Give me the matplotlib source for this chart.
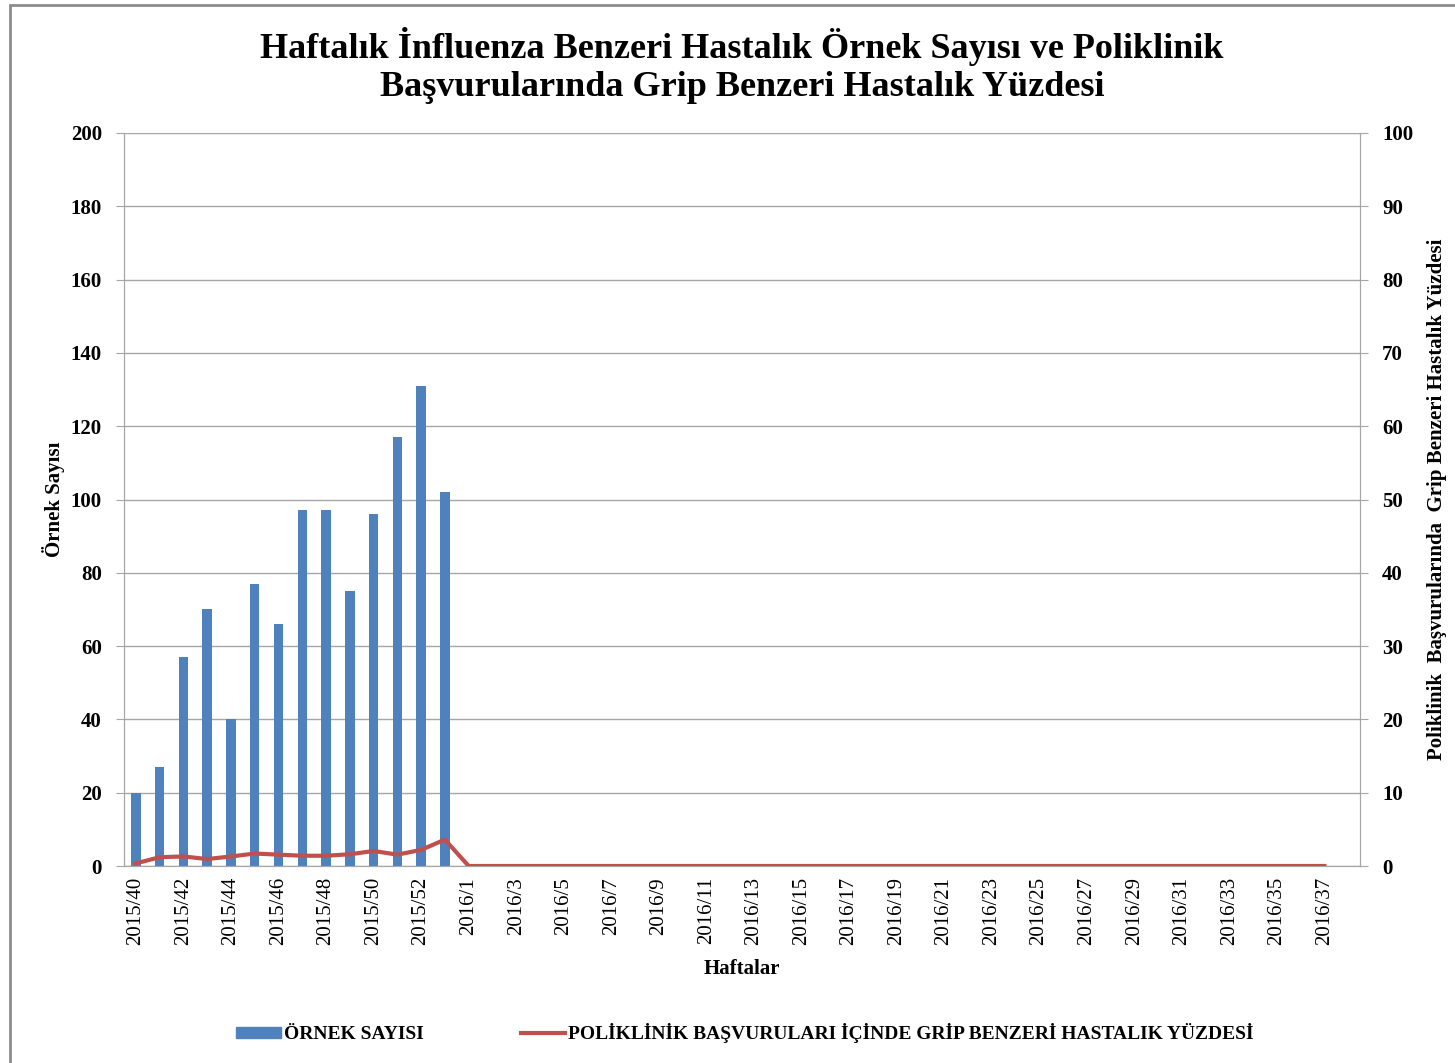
import numpy as np
import matplotlib
matplotlib.use("Agg")
import matplotlib.pyplot as plt
from matplotlib.patches import Rectangle

plt.rcParams['font.family'] = ['Liberation Serif', 'DejaVu Serif']
plt.rcParams['font.weight'] = 'bold'

weeks = ["2015/%d" % w for w in range(40, 54)] + ["2016/%d" % w for w in range(1, 39)]

ornek = [20, 27, 57, 70, 40, 77, 66, 97, 97, 75, 96, 117, 131, 102]
ornek = ornek + [np.nan] * (len(weeks) - len(ornek))

ili_pct = [0.36, 1.2, 1.3, 0.95, 1.3, 1.7, 1.55, 1.4, 1.4, 1.6, 2.05, 1.55, 2.2, 3.6]
ili_pct = ili_pct + [0.0] * 37 + [np.nan]

bar_color = '#4f81bd'
line_color = '#c0504d'
grid_color = '#a6a6a6'

fig = plt.figure(figsize=(14.55, 10.63), dpi=100)
ax = fig.add_axes([124/1455, 1-866/1063, (1360-124)/1455, (866-133)/1063])
ax2 = ax.twinx()

x = np.arange(len(weeks))
ax.bar(x, ornek, width=0.4, color=bar_color, zorder=3)
ax2.plot(x, ili_pct, color=line_color, lw=3, zorder=4)

ax.set_xlim(-0.5, len(weeks) - 0.5)
ax.set_ylim(0, 200)
ax.set_yticks(np.arange(0, 201, 20))
ax2.set_ylim(0, 100)
ax2.set_yticks(np.arange(0, 101, 10))

ax.set_xticks(x[::2])
ax.set_xticklabels(weeks[::2], rotation=90, fontsize=15, fontweight='normal')
ax.tick_params(axis='x', length=0, pad=8)
ax.tick_params(axis='y', labelsize=15, length=6, color=grid_color, pad=10)
ax2.tick_params(axis='y', labelsize=15, length=6, color=grid_color, pad=10)

ax.yaxis.grid(True, color=grid_color, lw=1, zorder=0)
ax.set_axisbelow(True)
for a in (ax, ax2):
    for s in a.spines.values():
        s.set_color(grid_color)
    a.spines['top'].set_visible(False)

ax.set_xlabel("Haftalar", fontsize=15, fontweight='bold', labelpad=10)
ax.set_ylabel("Örnek Sayısı", fontsize=15, fontweight='bold', labelpad=4)
ax2.set_ylabel("Poliklinik  Başvurularında  Grip Benzeri Hastalık Yüzdesi",
               fontsize=15, fontweight='bold', labelpad=10)

fig.suptitle("Haftalık İnfluenza Benzeri Hastalık Örnek Sayısı ve Poliklinik\n"
             "Başvurularında Grip Benzeri Hastalık Yüzdesi",
             fontsize=26, fontweight='bold', x=742/1455, y=0.975, linespacing=1.2)

h1 = plt.Rectangle((0, 0), 1, 1, color=bar_color)
h2 = plt.Line2D([], [], color=line_color, lw=3)
fig.legend([h1, h2], ["ÖRNEK SAYISI", "POLİKLİNİK BAŞVURULARI İÇİNDE GRİP BENZERİ HASTALIK YÜZDESİ"],
           loc='center', bbox_to_anchor=(745/1455, 1-1033/1063), ncol=2, frameon=False,
           fontsize=14, handlelength=2.3, handleheight=0.5, columnspacing=5, handletextpad=0.15)

fig.patches.append(Rectangle((10/1455, -0.01), 1.0, 1-5/1063 + 0.01, transform=fig.transFigure,
                             fill=False, edgecolor='#8c8c8c', lw=2))

fig.savefig("out.png", dpi=100)
